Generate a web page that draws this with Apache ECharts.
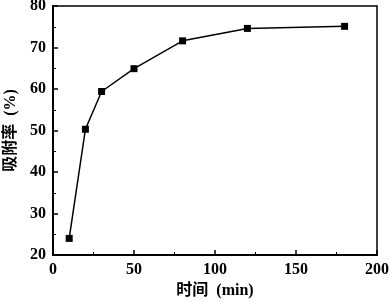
<!DOCTYPE html>
<html><head><meta charset="utf-8">
<script src="https://cdn.jsdelivr.net/npm/echarts@6/dist/echarts.min.js"></script>
<style>html,body{margin:0;padding:0;background:#fff}#c{width:389px;height:302px}</style>
</head><body><div id="c"></div>
<script>
var timeMin = [10, 20, 30, 50, 80, 120, 180];
var adsorption = [24.0, 50.3, 59.4, 64.9, 71.6, 74.6, 75.1];
var xTicks = [0, 50, 100, 150, 200];
var yTicks = [20, 30, 40, 50, 60, 70, 80];
var xName = '时间  (min)';
var yName = '吸附率  (%)';

var numFont = {fontFamily: '"Liberation Serif","Times New Roman",serif', fontWeight: 'bold', fontSize: 16, color: '#000'};
var nameFont = {fontFamily: '"Liberation Serif","Noto Sans CJK SC",serif', fontWeight: 'bold', fontSize: 16, color: '#000'};

var chart = echarts.init(document.getElementById('c'), null, {renderer: 'canvas'});
chart.setOption({
  animation: false,
  backgroundColor: '#fff',
  grid: {left: 53, right: 12, top: 6, bottom: 47, show: true, borderColor: '#000', borderWidth: 1.5,
         backgroundColor: 'transparent', containLabel: false, outerBoundsMode: 'none'},
  xAxis: {
    type: 'value', min: xTicks[0], max: xTicks[xTicks.length - 1], interval: 50,
    name: xName, nameLocation: 'middle', nameGap: 27, nameTextStyle: nameFont,
    axisLine: {lineStyle: {color: '#000', width: 2}},
    axisTick: {inside: true, length: 5, lineStyle: {color: '#000', width: 1.5}},
    minorTick: {show: true, splitNumber: 2, length: 3, lineStyle: {color: '#000', width: 1}},
    splitLine: {show: false},
    axisLabel: Object.assign({margin: 7}, numFont)
  },
  yAxis: {
    type: 'value', min: yTicks[0], max: yTicks[yTicks.length - 1], interval: 10,
    name: yName, nameLocation: 'middle', nameGap: 31, nameRotate: 90, nameTextStyle: nameFont,
    axisLine: {lineStyle: {color: '#000', width: 2}},
    axisTick: {inside: true, length: 5, lineStyle: {color: '#000', width: 1.5}},
    minorTick: {show: true, splitNumber: 2, length: 3, lineStyle: {color: '#000', width: 1}},
    splitLine: {show: false},
    axisLabel: Object.assign({margin: 7}, numFont)
  },
  series: [{
    type: 'line',
    data: timeMin.map(function (t, i) { return [t, adsorption[i]]; }),
    symbol: 'rect', symbolSize: 7,
    itemStyle: {color: '#000'},
    lineStyle: {color: '#000', width: 1.5}
  }]
});
</script></body></html>
